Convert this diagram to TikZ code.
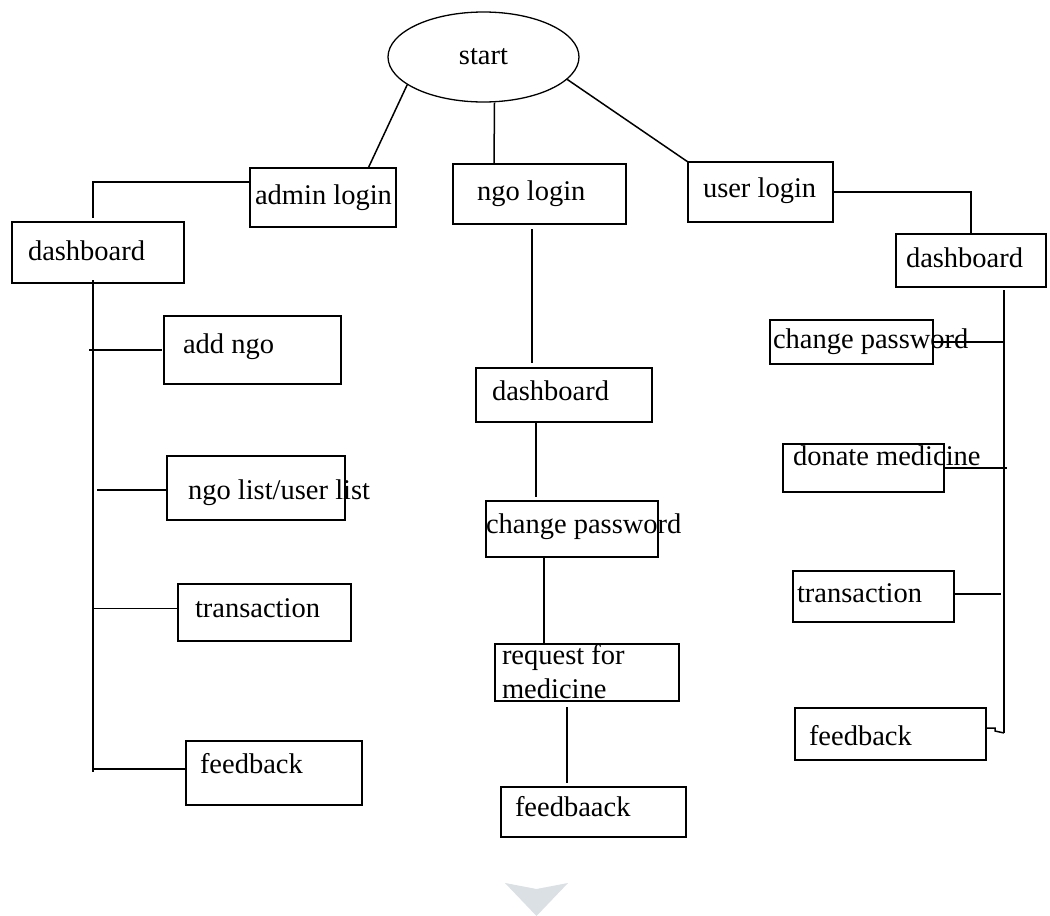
\documentclass[tikz,border=0pt]{standalone}
\usepackage{fontspec}
\setmainfont{Liberation Serif}
\usetikzlibrary{shapes.geometric,calc}
\definecolor{chevcol}{RGB}{218,224,227}
\tikzset{
  box/.style={draw, line width=1.5pt, rectangle, inner sep=0pt, outer sep=0pt},
  txt/.style={inner sep=0pt, outer sep=0pt, anchor=base west, font=\fontsize{28.5}{34}\selectfont},
  conn/.style={line width=1.5pt},
}
\begin{document}
\begin{tikzpicture}[x=1pt,y=-1pt]
\useasboundingbox (0,0) rectangle (1050,916);
\fill[white] (0,0) rectangle (1050,916);

% start
\node[draw, line width=1.3pt, ellipse, minimum width=191, minimum height=90, inner sep=0pt,
      font=\fontsize{28.5}{34}\selectfont] (start) at (483.5,57) {start};

% login boxes
\node[box, minimum width=146, minimum height=59] (al) at (323,197.5) {};
\node[txt] (tal) at (255,204) {admin login};
\node[box, minimum width=173, minimum height=60] (nl) at (539.5,194) {};
\node[txt] (tnl) at (477,200) {ngo login};
\node[box, minimum width=145, minimum height=60] (ul) at (760.5,192) {};
\node[txt] (tul) at (703,197) {user login};

% left column
\node[box, minimum width=172, minimum height=61] (ld) at (98,252.5) {};
\node[txt] (tld) at (28,260) {dashboard};
\node[box, minimum width=177, minimum height=68] (an) at (252.5,350) {};
\node[txt] (tan) at (183,353) {add ngo};
\node[box, minimum width=178, minimum height=64] (nul) at (256,488) {};
\node[txt] (tnul) at (188,499) {ngo list/user list};
\node[box, minimum width=173, minimum height=57] (lt) at (264.5,612.5) {};
\node[txt] (tlt) at (195,617) {transaction};
\node[box, minimum width=176, minimum height=64] (lf) at (274,773) {};
\node[txt] (tlf) at (200,773) {feedback};

% middle column
\node[box, minimum width=176, minimum height=54] (md) at (564,395) {};
\node[txt] (tmd) at (492,400) {dashboard};
\node[box, minimum width=172, minimum height=56] (mcp) at (572,529) {};
\node[txt] (tmcp) at (486,533) {change password};
\node[box, minimum width=184, minimum height=57] (mrq) at (587,672.5) {};
\node[txt] (tmrq1) at (502,664) {request for};
\node[txt] (tmrq2) at (502,698) {medicine};
\node[box, minimum width=185, minimum height=50] (mfb) at (593.5,812) {};
\node[txt] (tmfb) at (515,816) {feedbaack};

% right column
\node[box, minimum width=150, minimum height=53] (rd) at (971,260.5) {};
\node[txt] (trd) at (906,267) {dashboard};
\node[box, minimum width=163, minimum height=44] (rcp) at (851.5,342) {};
\node[txt] (trcp) at (773,348) {change password};
\node[box, minimum width=161, minimum height=48] (rdm) at (863.5,468) {};
\node[txt] (trdm) at (793,465) {donate medicine};
\node[box, minimum width=161, minimum height=51] (rt) at (873.5,596.5) {};
\node[txt] (trt) at (797,602) {transaction};
\node[box, minimum width=191, minimum height=52] (rf) at (890.5,734) {};
\node[txt] (trf) at (809,745) {feedback};

% connectors from start
\draw[conn] (start.200) -- ($(al.north west)!0.81!(al.north east)$);
\draw[conn] ($(start.south)+(11,0)$) -- ($(nl.north west)+(41,0)$);
\draw[conn] (start.-15) -- (ul.north west);

% admin branch
\draw[conn] ($(al.north west)+(0,14)$) -| ($(ld.north)+(-5,-4)$);
\coordinate (ltop) at ($(ld.south)+(-5,-3)$);
\coordinate (lbot) at (93,772);
\draw[conn] (ltop) -- (lbot);
\draw[conn] ($(an.west)+(-75,0)$) -- ($(an.west)+(-2,0)$);
\draw[conn] ($(nul.west)+(-70,2)$) -- ($(nul.west)+(0,2)$);
\draw[conn] ($(lt.west -| lbot)+(0,-4)$) -- ($(lt.west)+(0,-4)$);
\draw[conn] ($(lf.west -| lbot)+(0,-4)$) -- ($(lf.west)+(0,-4)$);

% ngo branch
\draw[conn] ($(nl.south)+(-7.5,5)$) -- ($(md.north)+(-32,-5)$);
\draw[conn] ($(md.south)+(-28,0)$) -- ($(mcp.north)+(-36,-4)$);
\draw[conn] ($(mcp.south)+(-28,0)$) -- ($(mrq.north)+(-43,0)$);
\draw[conn] ($(mrq.south)+(-20,6)$) -- ($(mfb.north)+(-26.5,-4)$);

% user branch
\draw[conn] (ul.east) -| (rd.north);
\coordinate (rtop) at ($(rd.south)+(33,3)$);
\coordinate (rbot) at (1004,733);
\draw[conn] (rtop) -- (rbot);
\draw[conn] (rcp.east) -- (rcp.east -| rbot);
\draw[conn] (rdm.east) -- ($(rdm.east -| rbot)+(3,0)$);
\draw[conn] ($(rt.east)+(0,-2.5)$) -- ($(rt.east -| rbot)+(-3,-2.5)$);
\draw[conn] ($(rf.east)+(0,-6)$) -- ++(9,0) -- ++(0,3) -- (rbot);

% bottom chevron
\fill[chevcol] (505,883) -- (536.5,889) -- (568,883) -- (536.5,916) -- cycle;
\end{tikzpicture}
\end{document}
